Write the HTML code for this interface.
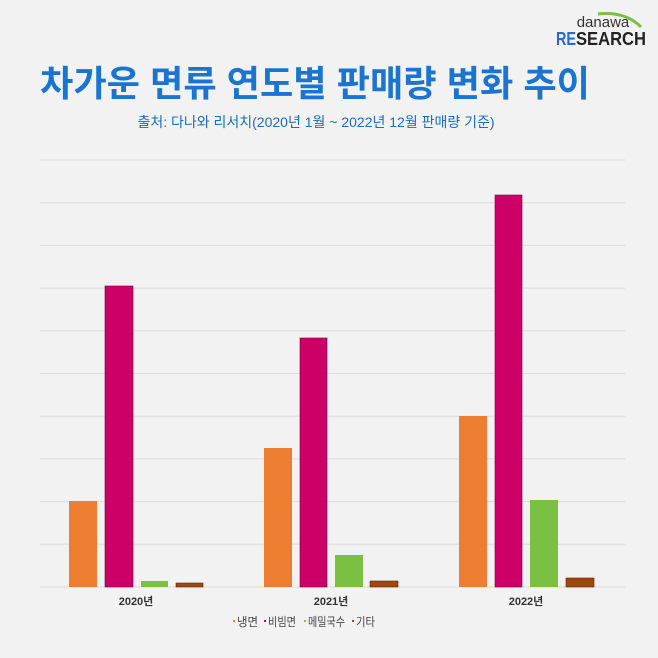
<!DOCTYPE html>
<html><head><meta charset="utf-8"><style>
body{margin:0;background:#f2f2f2;}
svg{display:block}
</style></head><body>
<svg width="658" height="658" xmlns="http://www.w3.org/2000/svg" font-family="'Liberation Sans','Noto Sans CJK KR',sans-serif">
<rect width="658" height="658" fill="#f2f2f2"/>
<text x="603" y="27" font-size="15" fill="#333" text-anchor="middle">danawa</text>
<path d="M598 14 Q625 11 641 27" stroke="#7bc043" stroke-width="3" fill="none"/>
<text x="556" y="45" font-size="18" font-weight="bold" fill="#2a6ac8" textLength="20" lengthAdjust="spacingAndGlyphs">RE</text>
<text x="576" y="45" font-size="18" font-weight="bold" fill="#222" textLength="70" lengthAdjust="spacingAndGlyphs">SEARCH</text>
<text x="40" y="96" font-size="36" font-weight="bold" fill="#1a74d0" textLength="550" lengthAdjust="spacingAndGlyphs">차가운 면류 연도별 판매량 변화 추이</text>
<text x="316" y="127" font-size="14" fill="#1a6cc0" text-anchor="middle">출처: 다나와 리서치(2020년 1월 ~ 2022년 12월 판매량 기준)</text>
<g stroke="#dcdcdc" stroke-width="1">
<line x1="40" x2="625" y1="160" y2="160"/><line x1="40" x2="625" y1="202.7" y2="202.7"/><line x1="40" x2="625" y1="245.4" y2="245.4"/><line x1="40" x2="625" y1="288.1" y2="288.1"/><line x1="40" x2="625" y1="330.8" y2="330.8"/><line x1="40" x2="625" y1="373.5" y2="373.5"/><line x1="40" x2="625" y1="416.2" y2="416.2"/><line x1="40" x2="625" y1="458.9" y2="458.9"/><line x1="40" x2="625" y1="501.6" y2="501.6"/><line x1="40" x2="625" y1="544.3" y2="544.3"/><line x1="40" x2="625" y1="587" y2="587"/>
</g>
<g>
<rect x="69" y="501" width="28" height="86" fill="#ed7d31"/>
<rect x="105" y="286" width="28" height="301" fill="#cc0066" stroke="#7a003d" stroke-width="0.6"/>
<rect x="141" y="581" width="27" height="6" fill="#7ac143"/>
<rect x="176" y="583" width="27" height="4" fill="#9e480e" stroke="#5a2600" stroke-width="0.6"/>
<rect x="264" y="448" width="28" height="139" fill="#ed7d31"/>
<rect x="300" y="338" width="27" height="249" fill="#cc0066" stroke="#7a003d" stroke-width="0.6"/>
<rect x="335" y="555" width="28" height="32" fill="#7ac143"/>
<rect x="370" y="581" width="28" height="6" fill="#9e480e" stroke="#5a2600" stroke-width="0.6"/>
<rect x="459" y="416" width="28" height="171" fill="#ed7d31"/>
<rect x="495" y="195" width="27" height="392" fill="#cc0066" stroke="#7a003d" stroke-width="0.6"/>
<rect x="530" y="500" width="28" height="87" fill="#7ac143"/>
<rect x="566" y="578" width="28" height="9" fill="#9e480e" stroke="#5a2600" stroke-width="0.6"/>
</g>
<g font-size="11" font-weight="bold" fill="#333" text-anchor="middle">
<text x="136" y="605">2020년</text><text x="331" y="605">2021년</text><text x="526" y="605">2022년</text>
</g>
<g font-size="12" fill="#444">
<rect x="233" y="620" width="2" height="2" fill="#ed7d31"/><text x="237" y="626" textLength="21" lengthAdjust="spacingAndGlyphs">냉면</text>
<rect x="264" y="620" width="2" height="2" fill="#cc0066"/><text x="268" y="626" textLength="28" lengthAdjust="spacingAndGlyphs">비빔면</text>
<rect x="304" y="620" width="2" height="2" fill="#7ac143"/><text x="308" y="626" textLength="37" lengthAdjust="spacingAndGlyphs">메밀국수</text>
<rect x="352" y="620" width="2" height="2" fill="#9e480e"/><text x="356" y="626" textLength="19" lengthAdjust="spacingAndGlyphs">기타</text>
</g>
</svg>
</body></html>
